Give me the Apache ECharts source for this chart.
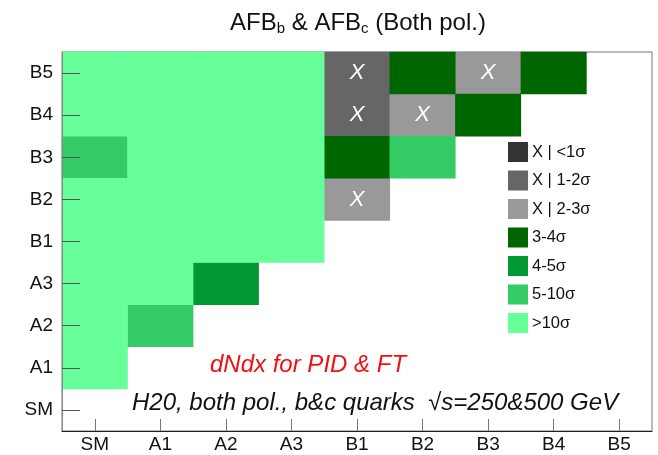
<!DOCTYPE html>
<html>
<head>
<meta charset="utf-8">
<script src="https://cdn.jsdelivr.net/npm/echarts@6/dist/echarts.min.js"></script>
<style>
html,body{margin:0;padding:0;background:#fff;}
#chart{width:658px;height:455px;}
</style>
</head>
<body>
<div id="chart"></div>
<script>
// Categories (x and y axes)
const xCats = ['SM','A1','A2','A3','B1','B2','B3','B4','B5'];
const yCats = ['SM','A1','A2','A3','B1','B2','B3','B4','B5'];

// Significance levels (legend)
const levels = ['X | <1σ','X | 1-2σ','X | 2-3σ','3-4σ','4-5σ','5-10σ','>10σ'];
const excluded = [true, true, true, false, false, false, false];

// Level index per cell, one row per y category (null = empty)
const rowSM = [null,null,null,null,null,null,null,null,null];
const rowA1 = [6,null,null,null,null,null,null,null,null];
const rowA2 = [6,5,null,null,null,null,null,null,null];
const rowA3 = [6,6,4,null,null,null,null,null,null];
const rowB1 = [6,6,6,6,null,null,null,null,null];
const rowB2 = [6,6,6,6,2,null,null,null,null];
const rowB3 = [5,6,6,6,3,5,null,null,null];
const rowB4 = [6,6,6,6,1,2,3,null,null];
const rowB5 = [6,6,6,6,1,3,2,3,null];

const rows = [rowSM,rowA1,rowA2,rowA3,rowB1,rowB2,rowB3,rowB4,rowB5];

// Styles
const levelColors = ['#333333','#666666','#999999','#006600','#009933','#33cc66','#66ff99'];
const FONT = '"Liberation Sans", Arial, Helvetica, sans-serif';

const series = levels.map((name, li) => {
  const data = [];
  rows.forEach((row, yi) => {
    row.forEach((lv, xi) => {
      if (lv === li) data.push([xi, yi, li]);
    });
  });
  return {
    name: name,
    type: 'heatmap',
    z: 2,
    data: data,
    itemStyle: { color: levelColors[li] },
    label: {
      show: excluded[li],
      formatter: 'X',
      color: '#ffffff',
      fontStyle: 'italic',
      fontSize: 22,
      fontFamily: FONT
    },
    emphasis: { disabled: true }
  };
});

const chart = echarts.init(document.getElementById('chart'), null, {renderer: 'canvas'});
chart.setOption({
  animation: false,
  backgroundColor: '#ffffff',
  grid: {
    left: 62, right: 6, top: 52, bottom: 24,
    show: true, borderColor: '#777', borderWidth: 1, backgroundColor: 'transparent'
  },
  xAxis: {
    type: 'category',
    data: xCats,
    z: 10,
    splitArea: {show: false},
    splitLine: {show: false},
    axisLine: {show: true, lineStyle: {color: '#222', width: 1}},
    axisTick: {show: true, inside: true, length: 12, alignWithLabel: true, lineStyle: {color: '#777', width: 1}},
    axisLabel: {fontSize: 19, color: '#111', fontFamily: FONT, margin: 4}
  },
  yAxis: {
    type: 'category',
    data: yCats,
    z: 10,
    splitArea: {show: false},
    splitLine: {show: false},
    axisLine: {show: true, lineStyle: {color: '#888', width: 1}},
    axisTick: {show: true, inside: true, length: 18, alignWithLabel: true, lineStyle: {color: '#555', width: 1}},
    axisLabel: {fontSize: 19, color: '#111', fontFamily: FONT, margin: 9}
  },
  legend: {
    orient: 'vertical',
    left: 508, top: 142,
    itemWidth: 20, itemHeight: 20, itemGap: 8.5,
    icon: 'rect',
    selectedMode: false,
    padding: 0,
    data: levels,
    textStyle: {fontSize: 16.5, color: '#111', fontFamily: FONT, padding: [0,0,0,-1]}
  },
  graphic: [
    {
      type: 'text', x: 358, y: 23,
      style: {
        text: 'AFB{sub|b} & AFB{sub|c} (Both pol.)',
        align: 'center', verticalAlign: 'middle',
        font: '24px ' + FONT, fill: '#111',
        rich: {
          sub: {fontSize: 15, fontFamily: FONT, fill: '#111', padding: [12,0,0,0]}
        }
      }
    },
    {
      type: 'text', x: 210, y: 365,
      style: {
        text: 'dNdx for PID & FT',
        verticalAlign: 'middle',
        font: 'italic 24px ' + FONT, fill: '#ee1111'
      }
    },
    {
      type: 'text', x: 132, y: 403,
      style: {
        text: 'H20, both pol., b&c quarks  √s=250&500 GeV',
        verticalAlign: 'middle',
        font: 'italic 24px ' + FONT, fill: '#111'
      }
    }
  ],
  series: series
});
</script>
</body>
</html>
